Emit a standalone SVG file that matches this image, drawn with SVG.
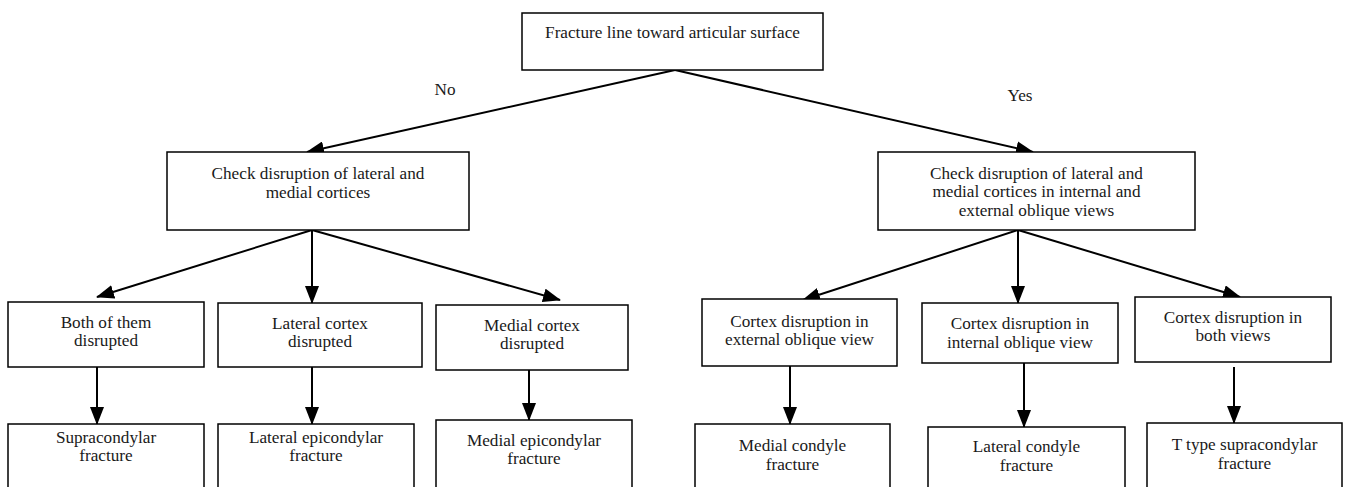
<svg xmlns="http://www.w3.org/2000/svg" width="1348" height="487" viewBox="0 0 1348 487">
<style>
.box{fill:#fff;stroke:#000;stroke-width:1.5}
.t{font-family:"Liberation Serif","DejaVu Serif",serif;font-size:17.2px;fill:#1a1a1a;text-anchor:middle}
.c{stroke:#000;stroke-width:2;fill:none}
</style>
<defs>
<marker id="ah" viewBox="0 0 18 14" refX="17" refY="7" markerWidth="18" markerHeight="14" markerUnits="userSpaceOnUse" orient="auto">
<path d="M0,0 L18,7 L0,14 Z" fill="#000"/>
</marker>
</defs>
<rect width="1348" height="487" fill="#fff"/>
<g id="connectors">
<line class="c" x1="675" y1="70" x2="307" y2="152" marker-end="url(#ah)"/>
<line class="c" x1="675" y1="70" x2="1033" y2="152" marker-end="url(#ah)"/>
<line class="c" x1="312" y1="230" x2="97" y2="297" marker-end="url(#ah)"/>
<line class="c" x1="312" y1="230" x2="312" y2="303" marker-end="url(#ah)"/>
<line class="c" x1="312" y1="230" x2="560" y2="300" marker-end="url(#ah)"/>
<line class="c" x1="1018" y1="230" x2="803" y2="300" marker-end="url(#ah)"/>
<line class="c" x1="1018" y1="230" x2="1018" y2="303" marker-end="url(#ah)"/>
<line class="c" x1="1018" y1="230" x2="1240" y2="297" marker-end="url(#ah)"/>
<line class="c" x1="97" y1="367" x2="97" y2="424" marker-end="url(#ah)"/>
<line class="c" x1="312" y1="367" x2="312" y2="424" marker-end="url(#ah)"/>
<line class="c" x1="529" y1="370" x2="529" y2="420" marker-end="url(#ah)"/>
<line class="c" x1="790" y1="366" x2="790" y2="424" marker-end="url(#ah)"/>
<line class="c" x1="1024" y1="363" x2="1024" y2="427" marker-end="url(#ah)"/>
<line class="c" x1="1234" y1="367" x2="1234" y2="423" marker-end="url(#ah)"/>
<text class="t" x="445" y="95">No</text>
<text class="t" x="1020" y="101">Yes</text>
</g>
<g id="n-top">
<rect class="box" x="522" y="13" width="301" height="57"/>
<text class="t" x="672.5" y="38">Fracture line toward articular surface</text>
</g>
<g id="n-left">
<rect class="box" x="167" y="152" width="302" height="78"/>
<text class="t" x="318" y="178.5">Check disruption of lateral and</text>
<text class="t" x="318" y="197.5">medial cortices</text>
</g>
<g id="n-right">
<rect class="box" x="878" y="152" width="317" height="78"/>
<text class="t" x="1036.5" y="178.5">Check disruption of lateral and</text>
<text class="t" x="1036.5" y="197">medial cortices in internal and</text>
<text class="t" x="1036.5" y="215.5">external oblique views</text>
</g>
<g id="n-both">
<rect class="box" x="8" y="302" width="196" height="65"/>
<text class="t" x="106" y="327.5">Both of them</text>
<text class="t" x="106" y="345.5">disrupted</text>
</g>
<g id="n-lat">
<rect class="box" x="218" y="303" width="204" height="64"/>
<text class="t" x="320" y="328.5">Lateral cortex</text>
<text class="t" x="320" y="347">disrupted</text>
</g>
<g id="n-med">
<rect class="box" x="436" y="305" width="192" height="65"/>
<text class="t" x="532" y="331">Medial cortex</text>
<text class="t" x="532" y="349">disrupted</text>
</g>
<g id="n-ext">
<rect class="box" x="702" y="299" width="195" height="67"/>
<text class="t" x="799.5" y="326.5">Cortex disruption in</text>
<text class="t" x="799.5" y="344.5">external oblique view</text>
</g>
<g id="n-int">
<rect class="box" x="922" y="303" width="196" height="60"/>
<text class="t" x="1020" y="328.5">Cortex disruption in</text>
<text class="t" x="1020" y="347.5">internal oblique view</text>
</g>
<g id="n-bothv">
<rect class="box" x="1135" y="297" width="196" height="65"/>
<text class="t" x="1233" y="322.5">Cortex disruption in</text>
<text class="t" x="1233" y="340.5">both views</text>
</g>
<g id="n-supra">
<rect class="box" x="8" y="424" width="196" height="80"/>
<text class="t" x="106" y="442.5">Supracondylar</text>
<text class="t" x="106" y="460.5">fracture</text>
</g>
<g id="n-latepi">
<rect class="box" x="218" y="424" width="196" height="80"/>
<text class="t" x="316" y="442.5">Lateral epicondylar</text>
<text class="t" x="316" y="460.5">fracture</text>
</g>
<g id="n-medepi">
<rect class="box" x="436" y="420" width="196" height="84"/>
<text class="t" x="534" y="445.5">Medial epicondylar</text>
<text class="t" x="534" y="463.5">fracture</text>
</g>
<g id="n-medcon">
<rect class="box" x="695" y="424" width="195" height="80"/>
<text class="t" x="792.5" y="450.5">Medial condyle</text>
<text class="t" x="792.5" y="469.5">fracture</text>
</g>
<g id="n-latcon">
<rect class="box" x="928" y="427" width="197" height="80"/>
<text class="t" x="1026.5" y="452">Lateral condyle</text>
<text class="t" x="1026.5" y="470.5">fracture</text>
</g>
<g id="n-ttype">
<rect class="box" x="1147" y="423" width="195" height="80"/>
<text class="t" x="1244.5" y="450">T type supracondylar</text>
<text class="t" x="1244.5" y="469">fracture</text>
</g>
</svg>
